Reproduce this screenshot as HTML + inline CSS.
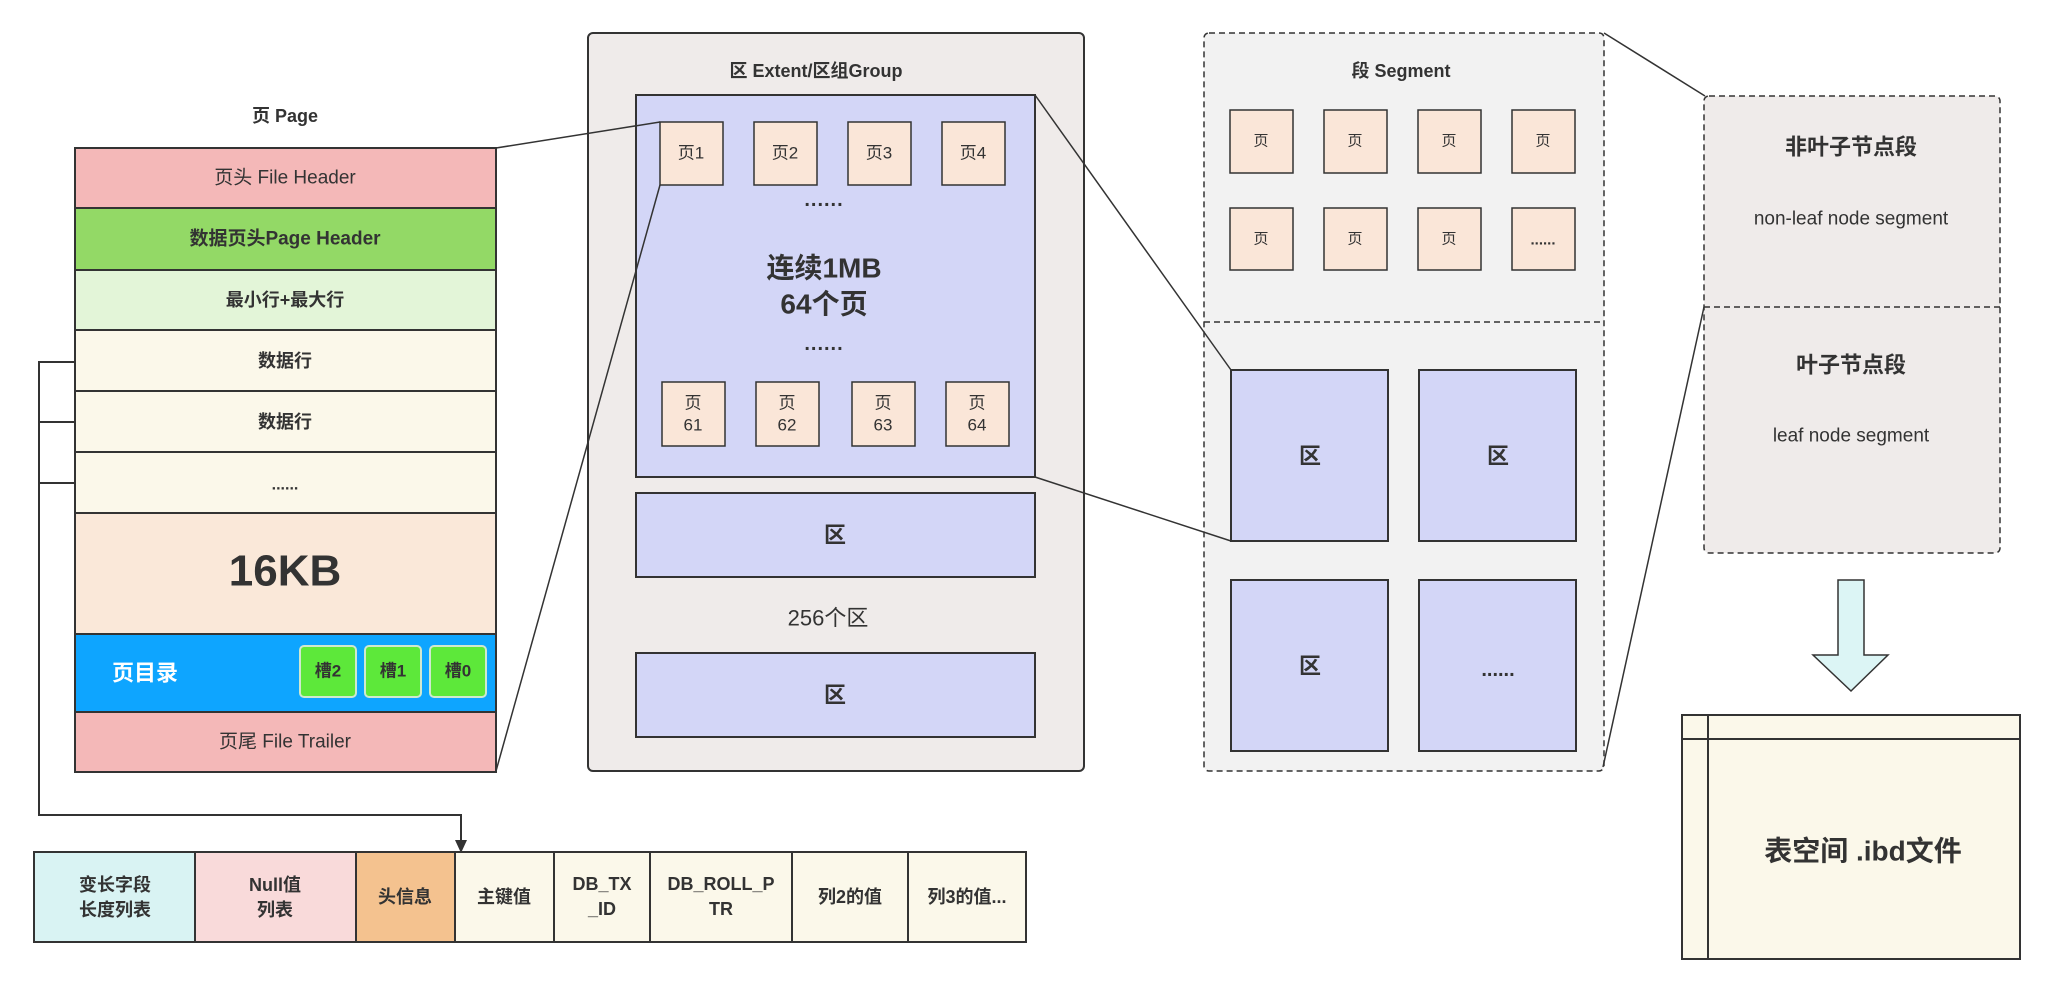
<!DOCTYPE html>
<html><head><meta charset="utf-8"><style>
html,body{margin:0;padding:0;background:#fff}
svg{display:block}
text{font-family:"Liberation Sans","Noto Sans CJK SC",sans-serif;fill:#333;text-anchor:middle;dominant-baseline:central}
.b{font-weight:bold}
</style></head><body>
<svg width="2045" height="981" viewBox="0 0 2045 981" xmlns="http://www.w3.org/2000/svg">
<g stroke="#333" stroke-width="2">
<rect x="75" y="148" width="421" height="60" fill="#f4b8b8"/>
<rect x="75" y="208" width="421" height="62" fill="#93d966"/>
<rect x="75" y="270" width="421" height="60" fill="#e3f5d8"/>
<rect x="75" y="330" width="421" height="61" fill="#fbf8ea"/>
<rect x="75" y="391" width="421" height="61" fill="#fbf8ea"/>
<rect x="75" y="452" width="421" height="61" fill="#fbf8ea"/>
<rect x="75" y="513" width="421" height="121" fill="#fae8d9"/>
<rect x="75" y="634" width="421" height="78" fill="#0ea5ff"/>
<rect x="75" y="712" width="421" height="60" fill="#f4b8b8"/>
</g>
<g stroke="#cfe8cf" stroke-width="2" fill="#5de83a">
<rect x="300" y="646" width="56" height="51" rx="4"/>
<rect x="365" y="646" width="56" height="51" rx="4"/>
<rect x="430" y="646" width="56" height="51" rx="4"/>
</g>
<text x="285" y="116" class="b" font-size="18">页 Page</text>
<text x="285" y="178" font-size="19" fill="#444">页头 File Header</text>
<text x="285" y="239" class="b" font-size="19">数据页头Page Header</text>
<text x="285" y="300" class="b" font-size="18">最小行+最大行</text>
<text x="285" y="361" class="b" font-size="18">数据行</text>
<text x="285" y="422" class="b" font-size="18">数据行</text>
<text x="285" y="485" class="b" font-size="16">......</text>
<text x="285" y="571" class="b" font-size="44" fill="#555">16KB</text>
<text x="145" y="673" class="b" font-size="22" style="fill:#fff">页目录</text>
<text x="328" y="671" class="b" font-size="17">槽2</text>
<text x="393" y="671" class="b" font-size="17">槽1</text>
<text x="458" y="671" class="b" font-size="17">槽0</text>
<text x="285" y="742" font-size="19" fill="#444">页尾 File Trailer</text>

<g stroke="#333" stroke-width="2" fill="none">
<polyline points="75,362 39,362 39,815 461,815 461,842"/>
<line x1="39" y1="422" x2="75" y2="422"/>
<line x1="39" y1="483" x2="75" y2="483"/>
</g>
<polygon points="455,840 467,840 461,853" fill="#333"/>

<g stroke="#333" stroke-width="2">
<rect x="34" y="852" width="161" height="90" fill="#d9f3f3"/>
<rect x="195" y="852" width="161" height="90" fill="#f9dada"/>
<rect x="356" y="852" width="99" height="90" fill="#f4c28f"/>
<rect x="455" y="852" width="99" height="90" fill="#fbf8ea"/>
<rect x="554" y="852" width="96" height="90" fill="#fbf8ea"/>
<rect x="650" y="852" width="142" height="90" fill="#fbf8ea"/>
<rect x="792" y="852" width="116" height="90" fill="#fbf8ea"/>
<rect x="908" y="852" width="118" height="90" fill="#fbf8ea"/>
</g>
<g font-size="18">
<text x="115" y="885" class="b">变长字段</text><text x="115" y="910" class="b">长度列表</text>
<text x="275" y="885" class="b">Null值</text><text x="275" y="910" class="b">列表</text>
<text x="405" y="897" class="b">头信息</text>
<text x="504" y="897" class="b">主键值</text>
<text x="602" y="884" class="b">DB_TX</text><text x="602" y="909" class="b">_ID</text>
<text x="721" y="884" class="b">DB_ROLL_P</text><text x="721" y="909" class="b">TR</text>
<text x="850" y="897" class="b">列2的值</text>
<text x="967" y="897" class="b">列3的值...</text>
</g>

<rect x="588" y="33" width="496" height="738" rx="5" fill="#efebea" stroke="#333" stroke-width="2"/>
<text x="816" y="71" class="b" font-size="18">区 Extent/区组Group</text>
<g stroke="#333" stroke-width="2">
<rect x="636" y="95" width="399" height="382" fill="#d3d6f7"/>
<rect x="636" y="493" width="399" height="84" fill="#d3d6f7"/>
<rect x="636" y="653" width="399" height="84" fill="#d3d6f7"/>
</g>
<g stroke="#333" stroke-width="1.5" fill="#fae6d8">
<rect x="660" y="122" width="63" height="63"/><rect x="754" y="122" width="63" height="63"/>
<rect x="848" y="122" width="63" height="63"/><rect x="942" y="122" width="63" height="63"/>
<rect x="662" y="382" width="63" height="64"/><rect x="756" y="382" width="63" height="64"/>
<rect x="852" y="382" width="63" height="64"/><rect x="946" y="382" width="63" height="64"/>
</g>
<g font-size="17" fill="#444">
<text x="691" y="153">页1</text><text x="785" y="153">页2</text><text x="879" y="153">页3</text><text x="973" y="153">页4</text>
<text x="693" y="403">页</text><text x="693" y="425">61</text>
<text x="787" y="403">页</text><text x="787" y="425">62</text>
<text x="883" y="403">页</text><text x="883" y="425">63</text>
<text x="977" y="403">页</text><text x="977" y="425">64</text>
</g>
<text x="824" y="200" class="b" font-size="20" letter-spacing="1">......</text>
<text x="824" y="344" class="b" font-size="20" letter-spacing="1">......</text>
<text x="824" y="268" class="b" font-size="28" fill="#555">连续1MB</text>
<text x="824" y="304" class="b" font-size="28" fill="#555">64个页</text>
<text x="835" y="535" class="b" font-size="22">区</text>
<text x="828" y="618" font-size="22">256个区</text>
<text x="835" y="695" class="b" font-size="22">区</text>

<rect x="1204" y="33" width="400" height="738" rx="5" fill="#f2f2f2" stroke="#333" stroke-width="1.5" stroke-dasharray="6,4"/>
<line x1="1204" y1="322" x2="1604" y2="322" stroke="#333" stroke-width="1.5" stroke-dasharray="6,4"/>
<text x="1401" y="71" class="b" font-size="18">段 Segment</text>
<g stroke="#333" stroke-width="1.5" fill="#fae6d8">
<rect x="1230" y="110" width="63" height="63"/><rect x="1324" y="110" width="63" height="63"/>
<rect x="1418" y="110" width="63" height="63"/><rect x="1512" y="110" width="63" height="63"/>
<rect x="1230" y="208" width="63" height="62"/><rect x="1324" y="208" width="63" height="62"/>
<rect x="1418" y="208" width="63" height="62"/><rect x="1512" y="208" width="63" height="62"/>
</g>
<g font-size="15" fill="#444">
<text x="1261" y="141">页</text><text x="1355" y="141">页</text><text x="1449" y="141">页</text><text x="1543" y="141">页</text>
<text x="1261" y="239">页</text><text x="1355" y="239">页</text><text x="1449" y="239">页</text><text x="1543" y="240" class="b">......</text>
</g>
<g stroke="#333" stroke-width="2" fill="#d3d6f7">
<rect x="1231" y="370" width="157" height="171"/><rect x="1419" y="370" width="157" height="171"/>
<rect x="1231" y="580" width="157" height="171"/><rect x="1419" y="580" width="157" height="171"/>
</g>
<text x="1310" y="456" class="b" font-size="22">区</text>
<text x="1498" y="456" class="b" font-size="22">区</text>
<text x="1310" y="666" class="b" font-size="22">区</text>
<text x="1498" y="670" class="b" font-size="20">......</text>

<rect x="1704" y="96" width="296" height="457" rx="5" fill="#efebea" stroke="#333" stroke-width="1.5" stroke-dasharray="6,4"/>
<line x1="1704" y1="307" x2="2000" y2="307" stroke="#333" stroke-width="1.5" stroke-dasharray="6,4"/>
<text x="1851" y="147" class="b" font-size="22">非叶子节点段</text>
<text x="1851" y="219" font-size="19">non-leaf node segment</text>
<text x="1851" y="365" class="b" font-size="22">叶子节点段</text>
<text x="1851" y="436" font-size="19">leaf node segment</text>

<polygon points="1838,580 1864,580 1864,655 1888,655 1851,691 1813,655 1838,655" fill="#dcf5f5" stroke="#333" stroke-width="1.5"/>

<rect x="1682" y="715" width="338" height="244" fill="#fbf8ea" stroke="#333" stroke-width="2"/>
<line x1="1708" y1="715" x2="1708" y2="959" stroke="#333" stroke-width="2"/>
<line x1="1682" y1="739" x2="2020" y2="739" stroke="#333" stroke-width="2"/>
<text x="1863" y="851" class="b" font-size="28">表空间 .ibd文件</text>

<g stroke="#333" stroke-width="1.5" fill="none">
<line x1="496" y1="148" x2="660" y2="122"/>
<line x1="496" y1="771" x2="660" y2="185"/>
<line x1="1035" y1="95" x2="1231" y2="370"/>
<line x1="1035" y1="477" x2="1231" y2="541"/>
<line x1="1604" y1="33" x2="1705" y2="96"/>
<line x1="1603" y1="767" x2="1704" y2="307"/>
</g>
</svg>
</body></html>
